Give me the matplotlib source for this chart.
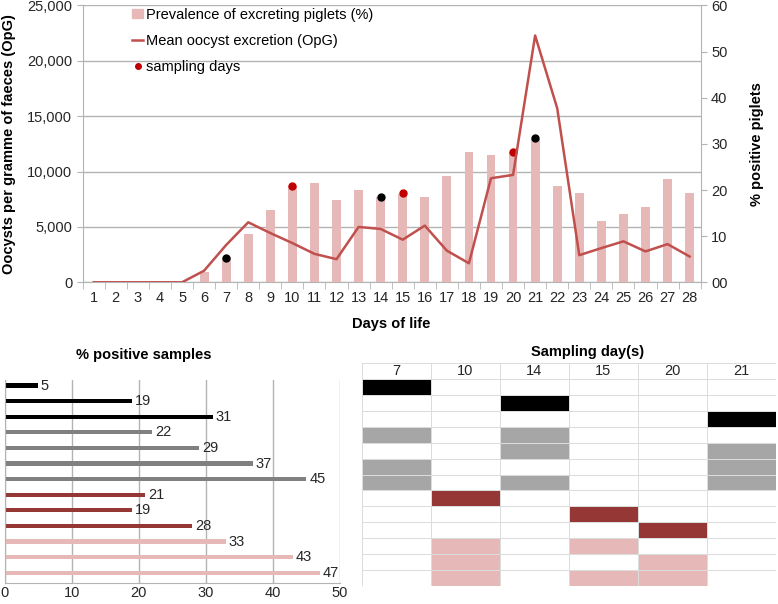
"""
Oocyst excretion and prevalence over the first 28 days of life, with the
% positive samples per sampling-day combination and the matching table.
"""

import numpy as np
import matplotlib
matplotlib.use("Agg")
import matplotlib.pyplot as plt
from matplotlib.colors import ListedColormap
from matplotlib.lines import Line2D
from matplotlib.patches import Patch
from matplotlib.ticker import FuncFormatter, MultipleLocator

plt.rcParams["font.family"] = ["Liberation Sans", "DejaVu Sans"]
plt.rcParams["font.size"] = 10

# ---- data -----------------------------------------------------------------
days = list(range(1, 29))
prevalence = [0, 0, 0, 0, 0, 2.3, 5.2, 10.4, 15.6, 20.8, 21.6, 17.8, 20.0,
	18.5, 19.2, 18.5, 23.1, 28.2, 27.5, 28.3, 31.1, 20.8, 19.4, 13.3, 14.9,
	16.4, 22.3, 19.4]
opg = [0, 0, 0, 0, 0, 1050, 3370, 5420, 4450, 3545, 2570, 2090, 5000, 4820,
	3850, 5120, 2860, 1720, 9400, 9700, 22290, 15720, 2450, 3090, 3700, 2790,
	3450, 2330]
sampling_days = [7, 10, 14, 15, 20, 21]
sampling_pct = [5.2, 20.8, 18.5, 19.4, 28.3, 31.3]
sampling_kind = ["black", "red", "black", "red", "red", "black"]

positive = [5, 19, 31, 22, 29, 37, 45, 21, 19, 28, 33, 43, 47]
group = [1, 1, 1, 2, 2, 2, 2, 3, 3, 3, 4, 4, 4]
combos = [[7], [14], [21], [7, 14], [14, 21], [7, 21], [7, 14, 21],
	[10], [15], [20], [10, 15], [10, 20], [10, 15, 20]]

pink = "#e6b9b8"
darkred = "#953735"
linered = "#c0504d"
dotred = "#c00000"
gridgray = "#b3b3b3"
txt = "#262626"
bar_colors = {1: "black", 2: "#808080", 3: darkred, 4: pink}
cell_colors = ["white", "black", "#a6a6a6", darkred, pink]

fig = plt.figure(figsize = (7.78, 6.04), dpi = 100)

# ---- top chart ------------------------------------------------------------
ax_grid = fig.add_axes([0.1063, 0.5326, 0.7943, 0.4583])
ax_pct = ax_grid.twinx()
ax_line = ax_grid.twinx()

ax_grid.set_xlim(0.5, 28.5)
ax_grid.set_ylim(0, 25000)
ax_grid.yaxis.set_major_locator(MultipleLocator(5000))
ax_grid.yaxis.set_major_formatter(FuncFormatter(lambda v, p: "{:,.0f}".format(v)))
ax_grid.grid(axis = "y", color = gridgray, linewidth = 1)
ax_grid.set_axisbelow(True)
ax_grid.set_xticks(days)
ax_grid.set_xticks(np.arange(0.5, 29, 1), minor = True)
ax_grid.tick_params(axis = "x", which = "major", length = 0, pad = 6,
	labelsize = 10.5, labelcolor = txt)
ax_grid.tick_params(axis = "x", which = "minor", length = 5, color = gridgray)
ax_grid.tick_params(axis = "y", length = 4, color = gridgray, labelsize = 10.5,
	labelcolor = txt)
for s in ["top", "right"]:
	ax_grid.spines[s].set_visible(False)
for s in ["left", "bottom"]:
	ax_grid.spines[s].set_color(gridgray)
ax_grid.set_ylabel("Oocysts per gramme of faeces (OpG)", fontweight = "bold",
	fontsize = 10.5, color = "black", labelpad = 8)
ax_grid.set_xlabel("Days of life", fontweight = "bold", fontsize = 10.5,
	labelpad = 9)

ax_pct.bar(days, prevalence, width = 0.4, color = pink)
for d, p, k in zip(sampling_days, sampling_pct, sampling_kind):
	ax_pct.plot(d, p, "o", ms = 5, color = "black" if k == "black" else dotred)
ax_pct.set_ylim(0, 60)
ax_pct.yaxis.set_major_locator(MultipleLocator(10))
ax_pct.yaxis.set_major_formatter(FuncFormatter(lambda v, p: "%02d" % v))
ax_pct.tick_params(axis = "y", length = 4, color = gridgray, labelsize = 10.5,
	labelcolor = txt)
for s in ["top", "left", "bottom"]:
	ax_pct.spines[s].set_visible(False)
ax_pct.spines["right"].set_color(gridgray)
ax_pct.set_ylabel("% positive piglets", fontweight = "bold", fontsize = 10.5,
	rotation = 90, labelpad = 16)

ax_line.plot(days, opg, color = linered, linewidth = 1.8)
ax_line.set_ylim(0, 25000)
ax_line.set_xlim(0.5, 28.5)
ax_line.axis("off")

handles = [Patch(color = pink),
	Line2D([], [], color = linered, linewidth = 1.8),
	Line2D([], [], marker = "o", ms = 4, color = dotred, linestyle = "none")]
labels = ["Prevalence of excreting piglets (%)", "Mean oocyst excretion (OpG)",
	"sampling days"]
ax_line.legend(handles, labels, loc = "upper left", frameon = False,
	bbox_to_anchor = (0.058, 1.04), handlelength = 0.8, handleheight = 0.6,
	handletextpad = 0.2, labelspacing = 0.85, fontsize = 10.5)

# ---- bottom left: % positive samples --------------------------------------
ax_bar = fig.add_axes([0.0058, 0.035, 0.4312, 0.3359])
ypos = np.arange(len(positive))
bars = ax_bar.barh(ypos, positive, height = 0.27,
	color = [bar_colors[g] for g in group])
ax_bar.bar_label(bars, padding = 2, fontsize = 10.5, color = txt)
ax_bar.set_xlim(0, 50)
ax_bar.set_ylim(12.65, -0.36)
ax_bar.xaxis.set_major_locator(MultipleLocator(10))
ax_bar.grid(axis = "x", color = gridgray, linewidth = 1)
ax_bar.set_axisbelow(True)
ax_bar.set_yticks([])
ax_bar.tick_params(axis = "x", length = 0, pad = 2, labelsize = 10.5,
	labelcolor = txt)
for s in ["top", "right"]:
	ax_bar.spines[s].set_visible(False)
for s in ["left", "bottom"]:
	ax_bar.spines[s].set_color(gridgray)
ax_bar.text(0.416, 1.122, "% positive samples", transform = ax_bar.transAxes,
	ha = "center", va = "center", fontweight = "bold", fontsize = 10.5)

# ---- bottom right: sampling-day table -------------------------------------
cells = np.zeros((len(combos) + 1, len(sampling_days)), dtype = int)
for i, (c, g) in enumerate(zip(combos, group)):
	for d in c:
		cells[i + 1, sampling_days.index(d)] = g

ax_tab = fig.add_axes([0.4649, 0.0303, 0.5325, 0.3682])
ax_tab.pcolormesh(cells, cmap = ListedColormap(cell_colors), vmin = -0.5,
	vmax = 4.5, edgecolors = "#dcdcdc", linewidth = 0.5)
ax_tab.set_xlim(0, len(sampling_days))
ax_tab.set_ylim(len(combos) + 1, 0)
ax_tab.axis("off")
for j, d in enumerate(sampling_days):
	ax_tab.text(j + 0.5, 0.5, str(d), ha = "center", va = "center",
		fontsize = 10.5, color = txt)
ax_tab.text(0.546, 1.05, "Sampling day(s)", transform = ax_tab.transAxes,
	ha = "center", va = "center", fontweight = "bold", fontsize = 10.5)

plt.savefig("out.png", dpi = 100)
